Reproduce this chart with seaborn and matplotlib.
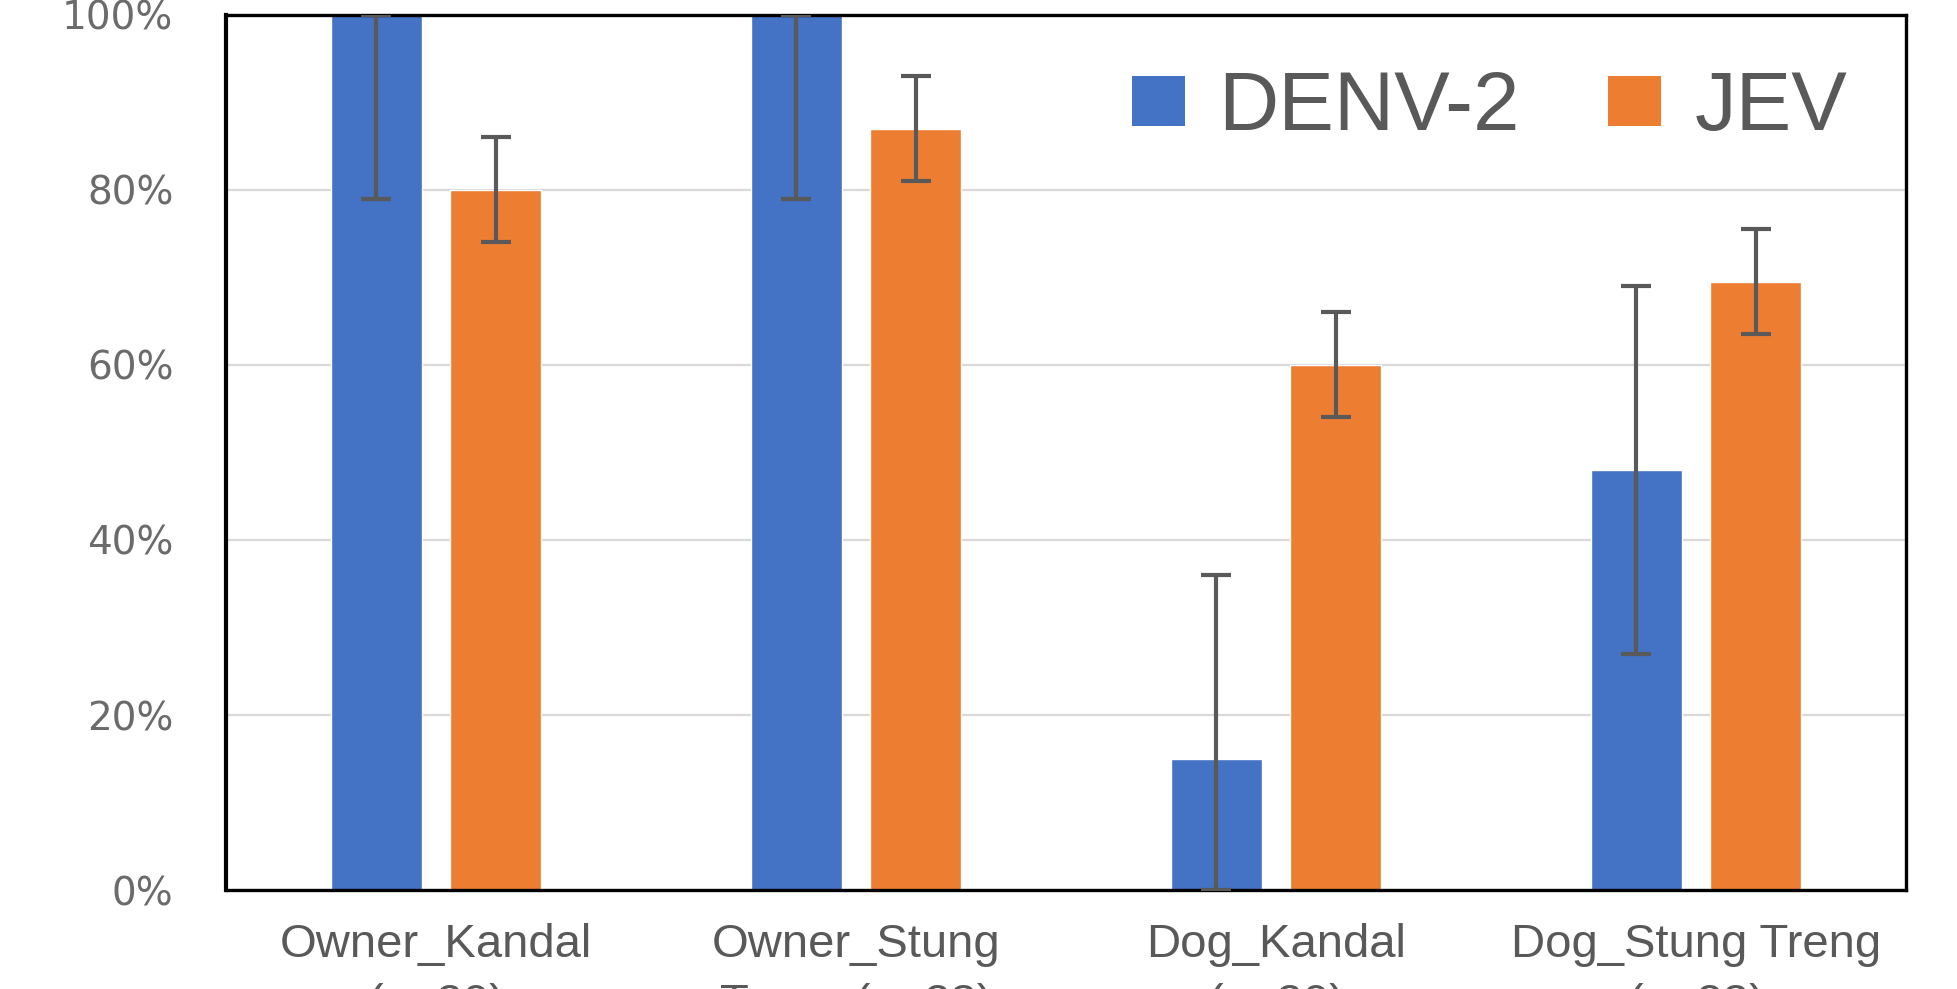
import numpy as np
import pandas as pd
import matplotlib
matplotlib.use("Agg")
import matplotlib.pyplot as plt
import seaborn as sns
from matplotlib import font_manager
from matplotlib.ticker import PercentFormatter, FixedLocator
from matplotlib.patches import Patch

# ---- data ----
categories = ["Owner_Kandal\n(n=20)", "Owner_Stung\nTreng (n=23)",
              "Dog_Kandal\n(n=20)", "Dog_Stung Treng\n(n=23)"]
series = ["DENV-2", "JEV"]
denv2 = [100, 100, 15, 48]
denv2_lo = [79, 79, 0, 27]
denv2_hi = [100, 100, 36, 69]
jev = [80, 87, 60, 69.5]
jev_lo = [74, 81, 54, 63.5]
jev_hi = [86, 93, 66, 75.5]
yticks = [0, 20, 40, 60, 80, 100]
colors = ["#4472C4", "#ED7D31"]

sns.set_theme(style="white")
avail = {f.name for f in font_manager.fontManager.ttflist}
fam = ["Liberation Sans Narrow", "DejaVu Sans"] if "Liberation Sans Narrow" in avail else ["Liberation Sans", "DejaVu Sans"]
plt.rcParams["font.family"] = fam

df = pd.DataFrame({
    "group": categories * 2,
    "series": [series[0]] * 4 + [series[1]] * 4,
    "value": denv2 + jev,
})

fig = plt.figure(figsize=(19.57, 9.89), dpi=100)
ax = fig.add_axes([0.1155, 0.10, 0.8585, 0.885])

sns.barplot(data=df, x="group", y="value", hue="series", palette=colors,
            width=0.57, gap=0.24, saturation=1, ax=ax, legend=False)

lows = [denv2_lo, jev_lo]
highs = [denv2_hi, jev_hi]
vals = [denv2, jev]
bar_conts = list(ax.containers)
for k, cont in enumerate(bar_conts):
    xs = [p.get_x() + p.get_width() / 2 for p in cont.patches]
    v = np.array(vals[k], dtype=float)
    lo = np.array(lows[k], dtype=float)
    hi = np.array(highs[k], dtype=float)
    ax.errorbar(xs, v, yerr=[v - lo, hi - v], fmt="none", ecolor="#595959",
                elinewidth=3, capsize=10.5, capthick=3, zorder=5)

ax.set_xlim(-0.5, len(categories) - 0.5)
ax.set_ylim(0, 100)
ax.yaxis.set_major_locator(FixedLocator(yticks))
ax.yaxis.set_major_formatter(PercentFormatter(decimals=0))
ax.yaxis.grid(True, color="#d9d9d9", lw=1.6)
ax.set_axisbelow(True)
for s in ax.spines.values():
    s.set_visible(True)
    s.set_color("black")
    s.set_linewidth(2.4)
ax.spines["left"].set_linewidth(3.0)
ax.set_xlabel("")
ax.set_ylabel("")
ax.tick_params(axis="y", length=0, pad=38, labelsize=28, labelcolor="#6b6b6b")
for t in ax.get_yticklabels():
    t.set_fontfamily("DejaVu Sans")
ax.tick_params(axis="x", length=0, pad=24, labelsize=34, labelcolor="#595959")
for t in ax.get_xticklabels():
    t.set_linespacing(1.45)

handles = [Patch(facecolor=c, edgecolor="none") for c in colors]
ax.legend(handles, series, loc="center", bbox_to_anchor=(0.752, 0.893),
          ncol=2, frameon=False, fontsize=60, handlelength=0.64,
          handleheight=0.55, handletextpad=0.4, columnspacing=1.05,
          labelcolor="#595959", borderpad=0)

fig.savefig("out.png", dpi=100)
